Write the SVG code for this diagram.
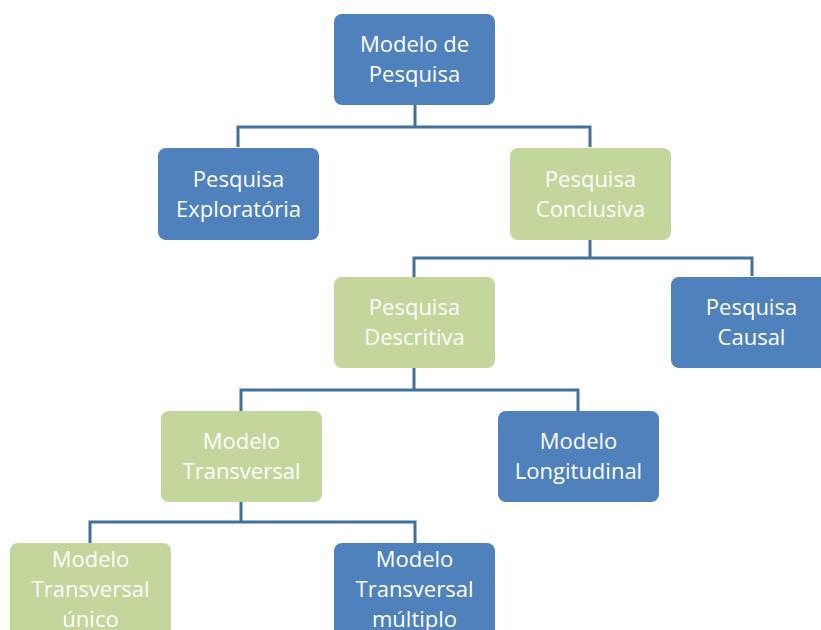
<svg xmlns="http://www.w3.org/2000/svg" width="821" height="630" viewBox="0 0 821 630">
<style>
.b{fill:#4F81BD}
.g{fill:#C3D69B}
.t{font-family:"Open Sans","Liberation Sans",sans-serif;font-size:22px;fill:#FFFFFF;text-anchor:middle}
.c{fill:none;stroke:#41719C;stroke-width:3}
</style>
<rect width="821" height="630" fill="#FFFFFF"/>
<g id="connectors">
<path class="c" d="M415,105 V127 M238,147 V127 H590 V147"/>
<path class="c" d="M590,240 V258 M414,277 V258 H752 V276"/>
<path class="c" d="M414,368 V390 M241,411 V390 H578 V411"/>
<path class="c" d="M241,502 V522 M90,543 V522 H415 V543"/>
</g>
<g id="n1"><rect class="b" x="334" y="14" width="161" height="91" rx="8"/><text class="t" x="414.5" y="52">Modelo de</text><text class="t" x="414.5" y="82">Pesquisa</text></g>
<g id="n2"><rect class="b" x="158" y="148" width="161" height="92" rx="8"/><text class="t" x="238.5" y="187">Pesquisa</text><text class="t" x="238.5" y="217">Exploratória</text></g>
<g id="n3"><rect class="g" x="510" y="148" width="161" height="92" rx="8"/><text class="t" x="590.5" y="187">Pesquisa</text><text class="t" x="590.5" y="217">Conclusiva</text></g>
<g id="n4"><rect class="g" x="334" y="277" width="161" height="91" rx="8"/><text class="t" x="414.5" y="315">Pesquisa</text><text class="t" x="414.5" y="345">Descritiva</text></g>
<g id="n5"><rect class="b" x="671" y="277" width="161" height="91" rx="8"/><text class="t" x="751.5" y="315">Pesquisa</text><text class="t" x="751.5" y="345">Causal</text></g>
<g id="n6"><rect class="g" x="161" y="411" width="161" height="91" rx="8"/><text class="t" x="241.5" y="449">Modelo</text><text class="t" x="241.5" y="479">Transversal</text></g>
<g id="n7"><rect class="b" x="498" y="411" width="161" height="91" rx="8"/><text class="t" x="578.5" y="449">Modelo</text><text class="t" x="578.5" y="479">Longitudinal</text></g>
<g id="n8"><rect class="g" x="10" y="543" width="161" height="100" rx="8"/><text class="t" x="90.5" y="567">Modelo</text><text class="t" x="90.5" y="597">Transversal</text><text class="t" x="90.5" y="627">único</text></g>
<g id="n9"><rect class="b" x="334" y="543" width="161" height="100" rx="8"/><text class="t" x="414.5" y="567">Modelo</text><text class="t" x="414.5" y="597">Transversal</text><text class="t" x="414.5" y="627">múltiplo</text></g>
</svg>
